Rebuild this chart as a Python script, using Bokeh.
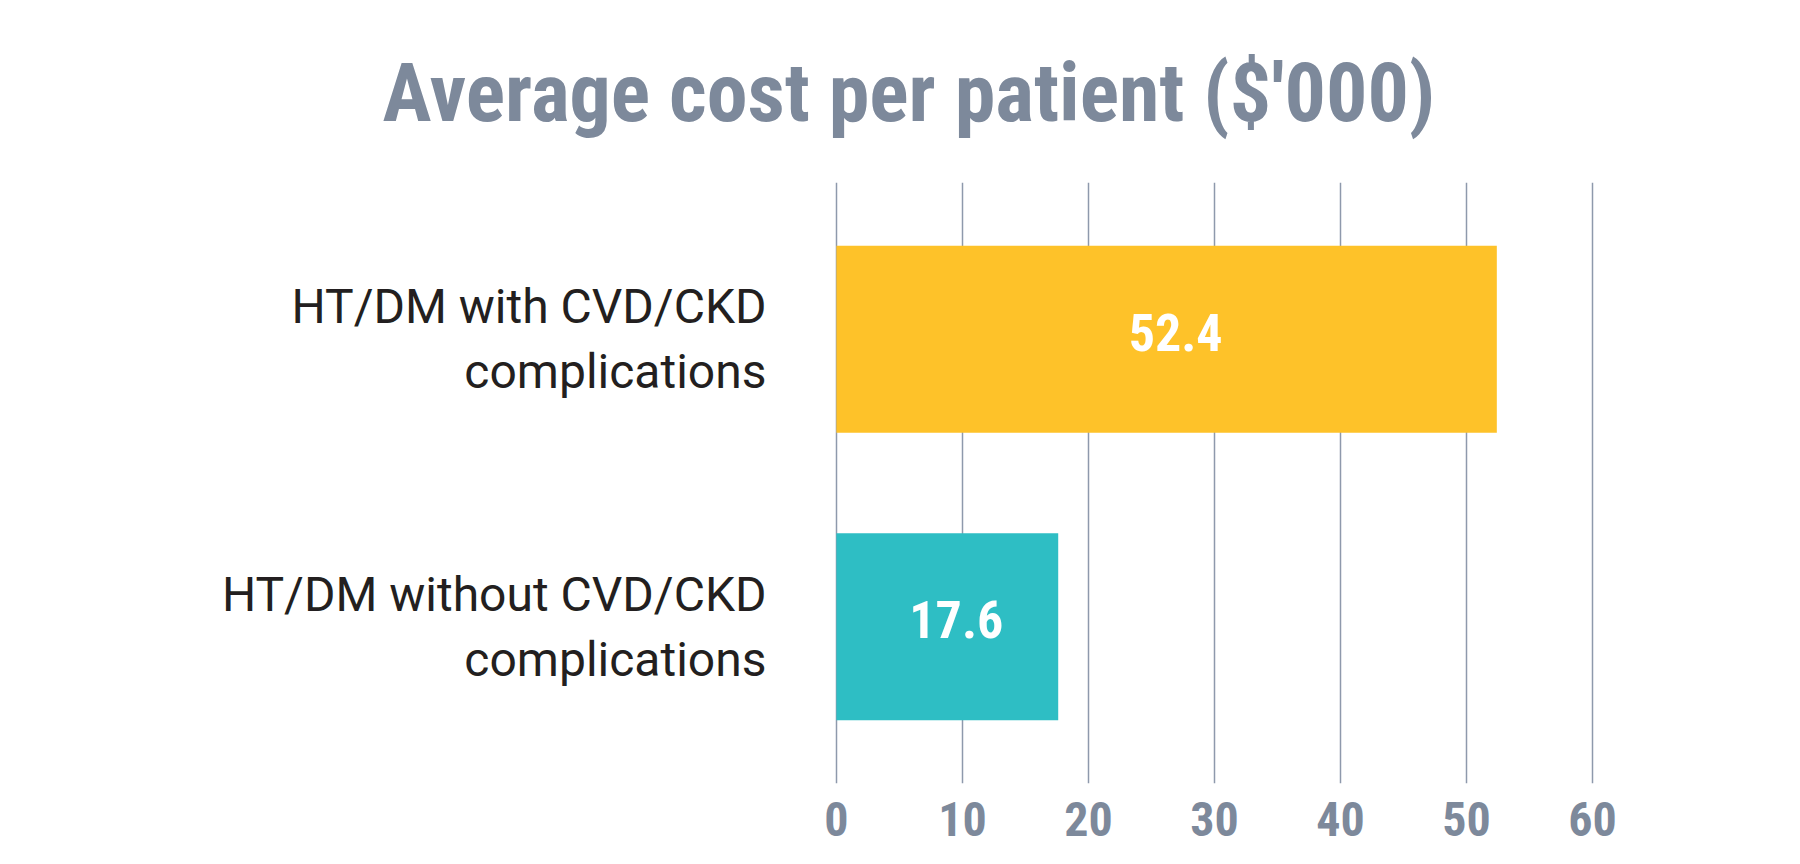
from bokeh.plotting import figure
from bokeh.models import FactorRange, Range1d, FixedTicker, ColumnDataSource, LabelSet, Title
from bokeh.core.properties import value
from bokeh.embed import file_html
from bokeh.resources import INLINE

# ---- data ----
categories = ["HT/DM without CVD/CKD\ncomplications", "HT/DM with CVD/CKD\ncomplications"]
values = [17.6, 52.4]
value_labels = ["17.6", "52.4"]
colors = ["#2EBEC4", "#FEC229"]
x_ticks = [0, 10, 20, 30, 40, 50, 60]
title_text = "Average cost per patient ($'000)"

GRAY = "#7D899B"
COND = "Roboto Condensed"

src = ColumnDataSource(dict(cat=categories, val=values, lab=value_labels, col=colors,
                            mid=[v / 2 for v in values]))

p = figure(width=1800, height=864, output_backend="svg", toolbar_location=None,
           y_range=FactorRange(*categories, range_padding=0.045),
           x_range=Range1d(-0.15, 60.15),
           min_border_left=834, min_border_right=206, min_border_top=182, min_border_bottom=81)
p.outline_line_color = None
p.background_fill_color = "white"
p.border_fill_color = "white"

p.hbar(y="cat", right="val", left=0, height=0.65, fill_color="col", line_color=None, source=src)

p.add_layout(LabelSet(x="mid", y="cat", text="lab", source=src, text_color="white",
                      text_font=value(COND), text_font_style="bold", text_font_size="52px",
                      text_align="center", text_baseline="middle", x_offset=9, y_offset=7))

# grid
p.ygrid.grid_line_color = None
p.xgrid.ticker = FixedTicker(ticks=x_ticks)
p.xgrid.grid_line_color = "#8E99AC"
p.xgrid.grid_line_width = 1.5
p.xgrid.level = "underlay"

# x axis
xa = p.xaxis[0]
xa.ticker = FixedTicker(ticks=x_ticks)
xa.axis_line_color = None
xa.major_tick_line_color = None
xa.minor_tick_line_color = None
xa.major_label_text_color = GRAY
xa.major_label_text_font = COND
xa.major_label_text_font_style = "bold"
xa.major_label_text_font_size = "48px"
xa.major_label_standoff = 12

# y axis
ya = p.yaxis[0]
ya.axis_line_color = None
ya.major_tick_line_color = None
ya.minor_tick_line_color = None
ya.major_label_text_color = "#231F20"
ya.major_label_text_font = "Roboto"
ya.major_label_text_font_size = "48px"
ya.major_label_text_line_height = 1.15
ya.major_label_standoff = 62

# title
p.add_layout(Title(text=title_text, align="left", offset=-452, standoff=83, text_color=GRAY,
                   text_font=COND, text_font_style="bold", text_font_size="82px"), "above")

open("out.html", "w").write(file_html(p, INLINE))
